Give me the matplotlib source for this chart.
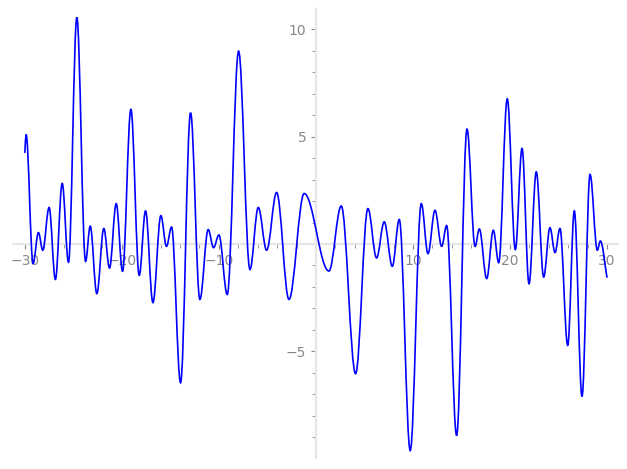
import matplotlib
matplotlib.use('Agg')
import matplotlib.pyplot as plt
from matplotlib.path import Path
from matplotlib.patches import PathPatch
from matplotlib.ticker import MultipleLocator, FuncFormatter

# turning points of the curve (plus both ends)
x_pts = [-30.0, -29.87, -29.15, -28.6, -28.15, -27.5, -26.85, -26.15, -25.5, -24.64,
         -23.74, -23.26, -22.58, -21.86, -21.27, -20.58, -19.93, -19.07, -18.21, -17.56,
         -16.80, -15.98, -15.40, -14.88, -13.95, -12.92, -11.96, -11.10, -10.55, -10.0,
         -9.14, -7.97, -6.80, -5.94, -5.08, -4.05, -2.78, -1.21, 1.34, 2.61,
         4.09, 5.36, 6.25, 7.04, 7.87, 8.59, 9.72, 10.86, 11.55, 12.27,
         12.96, 13.47, 14.5, 15.57, 16.4, 16.84, 17.6, 18.28, 18.84, 19.72,
         20.55, 21.24, 21.96, 22.71, 23.47, 24.12, 24.64, 25.15, 25.95, 26.63,
         27.42, 28.25, 29.0, 29.31, 30.0]
y_pts = [4.24, 5.10, -0.91, 0.53, -0.29, 1.70, -1.65, 2.82, -0.85, 10.55,
         -0.81, 0.83, -2.31, 0.72, -1.12, 1.88, -1.27, 6.27, -1.46, 1.54,
         -2.73, 1.32, -0.11, 0.79, -6.46, 6.11, -2.58, 0.67, -0.17, 0.42,
         -2.35, 8.98, -1.19, 1.70, -0.29, 2.40, -2.58, 2.35, -1.26, 1.77,
         -6.04, 1.65, -0.65, 1.03, -1.04, 1.14, -9.62, 1.88, -0.45, 1.57,
         -0.11, 0.86, -8.92, 5.35, -0.11, 0.70, -1.61, 0.64, -0.87, 6.76,
         -0.26, 4.45, -1.85, 3.36, -1.54, 0.76, -0.40, 0.72, -4.72, 1.54,
         -7.10, 3.24, -0.29, 0.14, -1.57]

# smooth path: cubic bezier between turning points, flat tangent at each one
n = len(x_pts)
verts = [(x_pts[0], y_pts[0])]
codes = [Path.MOVETO]
for i in range(n - 1):
    x0, y0 = x_pts[i], y_pts[i]
    x1, y1 = x_pts[i + 1], y_pts[i + 1]
    d = 0.363 * (x1 - x0)
    if i == 0:
        c0 = (x0 + (x1 - x0) / 3, y0 + (y1 - y0) / 3)
    else:
        c0 = (x0 + d, y0)
    if i == n - 2:
        c1 = (x1 - (x1 - x0) / 3, y1 - (y1 - y0) / 3)
    else:
        c1 = (x1 - d, y1)
    verts += [c0, c1, (x1, y1)]
    codes += [Path.CURVE4] * 3

fig = plt.figure(figsize=(6.27, 4.69), dpi=100)
ax = fig.add_axes([12.7 / 627, 10.7 / 469, 605 / 627, 449 / 469])

ax.add_patch(PathPatch(Path(verts, codes), facecolor='none',
                       edgecolor='blue', lw=1.2, zorder=3))
ax.set_xlim(-31.25, 31.1)
ax.set_ylim(-9.98, 10.93)

# spines through the origin
for side in ['top', 'right']:
    ax.spines[side].set_visible(False)
for side in ['left', 'bottom']:
    ax.spines[side].set_position(('data', 0))
    ax.spines[side].set_color('#e6e6e6')
    ax.spines[side].set_linewidth(1.5)

fmt = FuncFormatter(lambda v, p: '' if v == 0 else ('%g' % v).replace('-', '\u2212'))
ax.xaxis.set_major_locator(MultipleLocator(10))
ax.xaxis.set_minor_locator(MultipleLocator(2))
ax.yaxis.set_major_locator(MultipleLocator(5))
ax.yaxis.set_minor_locator(MultipleLocator(1))
ax.xaxis.set_major_formatter(fmt)
ax.yaxis.set_major_formatter(fmt)
ax.tick_params(which='both', colors='#888888', labelsize=10)
ax.tick_params(which='minor', length=3)
ax.set_facecolor('white')

fig.savefig('out.png', dpi=100)
